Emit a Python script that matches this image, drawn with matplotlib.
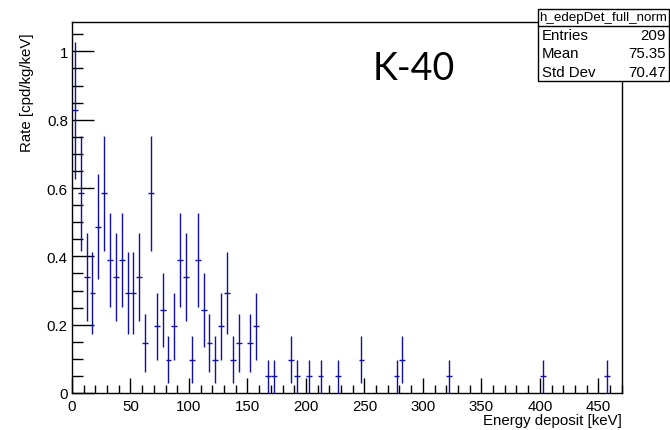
import numpy as np
import matplotlib
matplotlib.use("Agg")
import matplotlib.pyplot as plt
from matplotlib.patches import Rectangle
from matplotlib.lines import Line2D
from matplotlib.ticker import MultipleLocator, FuncFormatter

plt.rcParams['font.family'] = ['Liberation Sans', 'DejaVu Sans']

# Histogram content: non-empty 5 keV bins (centres in keV) and raw counts
bin_width = 5.0
energy_kev = [2.5, 7.5, 12.5, 17.5, 22.5, 27.5, 32.5, 37.5, 42.5, 47.5,
              52.5, 57.5, 62.5, 67.5, 72.5, 77.5, 82.5, 87.5, 92.5, 97.5,
              102.5, 107.5, 112.5, 117.5, 122.5, 127.5, 132.5, 137.5, 142.5,
              152.5, 157.5, 167.5, 172.5, 187.5, 192.5, 202.5, 212.5, 227.5,
              247.5, 277.5, 282.5, 322.5, 402.5, 457.5]
counts = [17, 12, 7, 6, 10, 12, 8, 7, 8, 6,
          6, 7, 3, 12, 4, 5, 2, 4, 8, 7,
          2, 8, 5, 3, 2, 4, 6, 2, 3,
          3, 4, 1, 1, 2, 1, 1, 1, 1,
          2, 1, 2, 1, 1, 1]
rate_per_count = 0.0487   # cpd/kg/keV per entry

hist_name = "h_edepDet_full_norm"
stats_rows = [("Entries", "209"), ("Mean", "75.35"), ("Std Dev", "70.47")]

x_range = (0, 470)
y_range = (0, 1.086)

counts_arr = np.array(counts, dtype=float)
rate = counts_arr * rate_per_count
rate_err = np.sqrt(counts_arr) * rate_per_count

W, H = 670, 431
fig = plt.figure(figsize=(W / 100, H / 100), dpi=100)
fig.patch.set_facecolor('white')

def fx(px):
    return px / W

def fy(py):
    return 1 - py / H

left, right, top, bottom = 72, 621.7, 23, 394
ax = fig.add_axes([fx(left), fy(bottom), fx(right) - fx(left), (bottom - top) / H])

ax.errorbar(energy_kev, rate, xerr=bin_width / 2, yerr=rate_err, fmt='none',
            ecolor='#1010a8', elinewidth=1.0, capsize=0, zorder=3)

ax.set_xlim(*x_range)
ax.set_ylim(*y_range)

for s in ax.spines.values():
    s.set_linewidth(1.0)
    s.set_color('black')

fmt = FuncFormatter(lambda v, p: "%g" % round(v, 6))
ax.xaxis.set_major_locator(MultipleLocator(50))
ax.xaxis.set_minor_locator(MultipleLocator(10))
ax.yaxis.set_major_locator(MultipleLocator(0.2))
ax.yaxis.set_minor_locator(MultipleLocator(0.05))
ax.xaxis.set_major_formatter(fmt)
ax.yaxis.set_major_formatter(fmt)

ax.tick_params(axis='x', which='major', direction='in', length=11, width=1.0,
               labelsize=10.8, pad=4, top=False)
ax.tick_params(axis='x', which='minor', direction='in', length=5.5, width=1.0, top=False)
ax.tick_params(axis='y', which='major', direction='in', length=16, width=1.0,
               labelsize=10.8, pad=3, right=False)
ax.tick_params(axis='y', which='minor', direction='in', length=8, width=1.0, right=False)

ax.set_xlabel("Energy deposit [keV]", fontsize=10.8, loc='right')
ax.xaxis.set_label_coords(1.0, -(421 - bottom) / (bottom - top))
ax.xaxis.label.set_va('center')
ax.set_ylabel("Rate [cpd/kg/keV]", fontsize=10.8, loc='top')
ax.yaxis.set_label_coords((27 - left) / (right - left), (bottom - 33) / (bottom - top))
ax.yaxis.label.set_va('center')

# Isotope label
fig.text(fx(414), fy(69), "K-40", fontsize=27, family=['Lato', 'DejaVu Sans'],
         ha='center', va='center')

# Statistics box
bx0, bx1, by0, by1, hsep = 538, 669, 10, 82, 27
fig.patches.append(Rectangle((fx(bx0), fy(by1)), fx(bx1) - fx(bx0), fy(by0) - fy(by1),
                             transform=fig.transFigure, facecolor='white',
                             edgecolor='black', linewidth=1.0, zorder=5))
fig.lines.append(Line2D([fx(bx0), fx(bx1)], [fy(hsep), fy(hsep)],
                        transform=fig.transFigure, color='black', linewidth=1.0, zorder=6))
fig.text(fx((bx0 + bx1) / 2), fy((by0 + hsep) / 2), hist_name, fontsize=9.6,
         ha='center', va='center', zorder=7)
row_h = (by1 - hsep) / len(stats_rows)
for i, (k, v) in enumerate(stats_rows):
    yc = hsep + row_h * (i + 0.5)
    fig.text(fx(bx0 + 4), fy(yc), k, fontsize=10.8, ha='left', va='center', zorder=7)
    fig.text(fx(bx1 - 3), fy(yc), v, fontsize=10.8, ha='right', va='center', zorder=7)

fig.savefig("out.png", dpi=100)
